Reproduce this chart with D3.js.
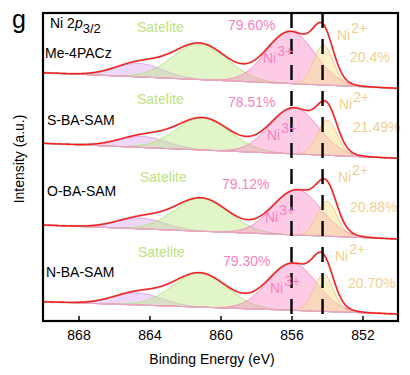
<!DOCTYPE html>
<html>
<head>
<meta charset="utf-8">
<script src="https://cdn.jsdelivr.net/npm/d3@7"></script>
<style>
  body { margin: 0; background: #fff; }
  svg { font-family: Arial, "Liberation Sans", sans-serif; }
</style>
</head>
<body>
<svg id="chart" width="410" height="375"></svg>
<script>
// Ni 2p3/2 fits, one row per film (top to bottom)
const samples = ["Me-4PACz", "S-BA-SAM", "O-BA-SAM", "N-BA-SAM"];
const ni3Shares = ["79.60%", "78.51%", "79.12%", "79.30%"];
const ni2Shares = ["20.4%", "21.49%", "20.88%", "20.70%"];
const xTicks = [868, 864, 860, 856, 852];
const refLines = [856.0, 854.25];

// fitted components: [satellite 2, satellite, Ni3+, Ni2+]
const peakCenters = [
  [864.6, 861.15, 856.05, 854.2],
  [864.4, 860.97, 855.85, 853.98],
  [864.5, 861.06, 855.7, 854.0],
  [864.7, 861.15, 855.95, 854.2]
];
const peakFwhm = [3.2, 3.6, 3.2, 1.3];
const peakHeights = [
  [13.5, 36, 52, 40],
  [11, 32, 46, 35],
  [10.7, 33, 45, 35],
  [12, 34, 47, 37]
];
// background (offset stack, a.u.) at 870 eV and at 850 eV
const baselineHigh = [248.3, 177.7, 96, 19.3];
const baselineLow = [232.7, 162.7, 82, 7];

/**
 * Layout.
 */
const plot = { left: 43, right: 398, top: 13, bottom: 321 };

const compFill = ["rgba(214,150,236,0.38)", "rgba(190,232,135,0.45)", "rgba(250,130,195,0.42)", "rgba(246,228,145,0.5)"];
const compStroke = ["#dc9be9", "#b0e07a", "#f47fbf", "#f3bf8a"];
const pinkText = "#f77fc0", tanText = "#efcf8f", greenText = "#bde37f";

// annotation placement per row (px)
const rowLabels = [
  { name: [45, 58], sat: [137, 32], p3: [228, 30], n3: [263, 63], n2: [337, 40], p2: [350, 61.5] },
  { name: [47, 125], sat: [137, 103.5], p3: [228, 107.3], n3: [267, 140], n2: [339, 109.3], p2: [353, 131.7] },
  { name: [47, 195.5], sat: [140, 181.5], p3: [222, 189], n3: [265, 221.7], n2: [338, 182.3], p2: [350, 211.7] },
  { name: [46, 277], sat: [138, 256.5], p3: [223, 266], n3: [270, 293.3], n2: [335, 260.7], p2: [348, 288] }
];

const svg = d3.select("#chart");

const x = d3.scaleLinear().domain([870, 850]).range([plot.left, plot.right]);
const y = d3.scaleLinear().domain([0, 308]).range([plot.bottom, plot.top]);

const energies = d3.range(870, 849.99, -0.05);
const gauss = (e, c, w, h) => h * Math.exp(-4 * Math.LN2 * ((e - c) / w) ** 2);

svg.append("defs").append("clipPath").attr("id", "plotclip")
  .append("rect")
    .attr("x", plot.left).attr("y", plot.top)
    .attr("width", plot.right - plot.left).attr("height", plot.bottom - plot.top);

const spectra = svg.append("g").attr("clip-path", "url(#plotclip)");

samples.forEach((s, i) => {
  const bg = d3.scaleLinear().domain([870, 850]).range([baselineHigh[i], baselineLow[i]]);
  const g = spectra.append("g").attr("class", "row");

  peakCenters[i].forEach((c, k) => {
    const pts = energies.map(e => ({ e, b: bg(e), v: gauss(e, c, peakFwhm[k], peakHeights[i][k]) }));
    g.append("path")
      .datum(pts)
      .attr("d", d3.area().x(d => x(d.e)).y0(d => y(d.b)).y1(d => y(d.b + d.v)))
      .attr("fill", compFill[k])
      .attr("stroke", compStroke[k])
      .attr("stroke-width", 0.9);
  });

  g.append("path")
    .datum(energies)
    .attr("d", d3.line().x(e => x(e)).y(e => y(bg(e))))
    .attr("fill", "none")
    .attr("stroke", "#e29de0")
    .attr("stroke-width", 1);

  const total = energies.map(e => ({
    e,
    v: bg(e) + d3.sum(peakCenters[i], (c, k) => gauss(e, c, peakFwhm[k], peakHeights[i][k]))
  }));
  const envelope = d3.line().x(d => x(d.e)).y(d => y(d.v));
  g.append("path").datum(total).attr("d", envelope)
    .attr("fill", "none").attr("stroke", "#9a9a9a").attr("stroke-width", 2.3).attr("opacity", 0.5);
  g.append("path").datum(total).attr("d", envelope)
    .attr("fill", "none").attr("stroke", "#ff1a1a").attr("stroke-width", 1.4);
});

// dashed reference lines
svg.append("g").selectAll("line")
  .data(refLines)
  .enter().append("line")
    .attr("x1", d => x(d)).attr("x2", d => x(d))
    .attr("y1", plot.top).attr("y2", plot.bottom)
    .attr("stroke", "#000")
    .attr("stroke-width", 2.4)
    .attr("stroke-dasharray", "15,11");

// labels
const labels = svg.append("g").style("font-size", "14px");
rowLabels.forEach((p, i) => {
  labels.append("text").attr("x", p.name[0]).attr("y", p.name[1]).attr("fill", "#000").text(samples[i]);
  labels.append("text").attr("x", p.sat[0]).attr("y", p.sat[1]).attr("fill", greenText).text("Satelite");
  labels.append("text").attr("x", p.p3[0]).attr("y", p.p3[1]).attr("fill", pinkText).text(ni3Shares[i]);
  labels.append("text").attr("x", p.p2[0]).attr("y", p.p2[1]).attr("fill", tanText).text(ni2Shares[i]);

  const n3 = labels.append("text").attr("x", p.n3[0]).attr("y", p.n3[1]).attr("fill", pinkText);
  n3.append("tspan").text("Ni");
  n3.append("tspan").attr("dy", -7).attr("dx", 1).text("3+");
  const n2 = labels.append("text").attr("x", p.n2[0]).attr("y", p.n2[1]).attr("fill", tanText);
  n2.append("tspan").text("Ni");
  n2.append("tspan").attr("dy", -7).attr("dx", 1).text("2+");
});

const title = labels.append("text").attr("x", 50).attr("y", 28).attr("fill", "#000");
title.append("tspan").text("Ni 2");
title.append("tspan").style("font-style", "italic").text("p");
title.append("tspan").attr("dy", 5).style("font-size", "13px").text("3/2");

svg.append("text").attr("x", 12).attr("y", 28).style("font-size", "25px").text("g");

// frame + axis
svg.append("rect")
  .attr("x", plot.left).attr("y", plot.top)
  .attr("width", plot.right - plot.left).attr("height", plot.bottom - plot.top)
  .attr("fill", "none").attr("stroke", "#000").attr("stroke-width", 2.2);

const xAxis = svg.append("g")
  .attr("transform", `translate(0,${plot.bottom})`)
  .call(d3.axisBottom(x).tickValues(xTicks).tickSizeInner(-5).tickSizeOuter(0).tickPadding(9));
xAxis.select(".domain").remove();
xAxis.selectAll(".tick line").attr("stroke-width", 1.5);
xAxis.selectAll("text").style("font-size", "14px").style("font-family", "Arial, 'Liberation Sans', sans-serif").attr("fill", "#000");

svg.append("text")
  .attr("x", 212).attr("y", 364)
  .attr("text-anchor", "middle")
  .style("font-size", "14px")
  .text("Binding Energy (eV)");

svg.append("text")
  .attr("transform", "translate(24,159) rotate(-90)")
  .attr("text-anchor", "middle")
  .style("font-size", "14px")
  .text("Intensity (a.u.)");
</script>
</body>
</html>
